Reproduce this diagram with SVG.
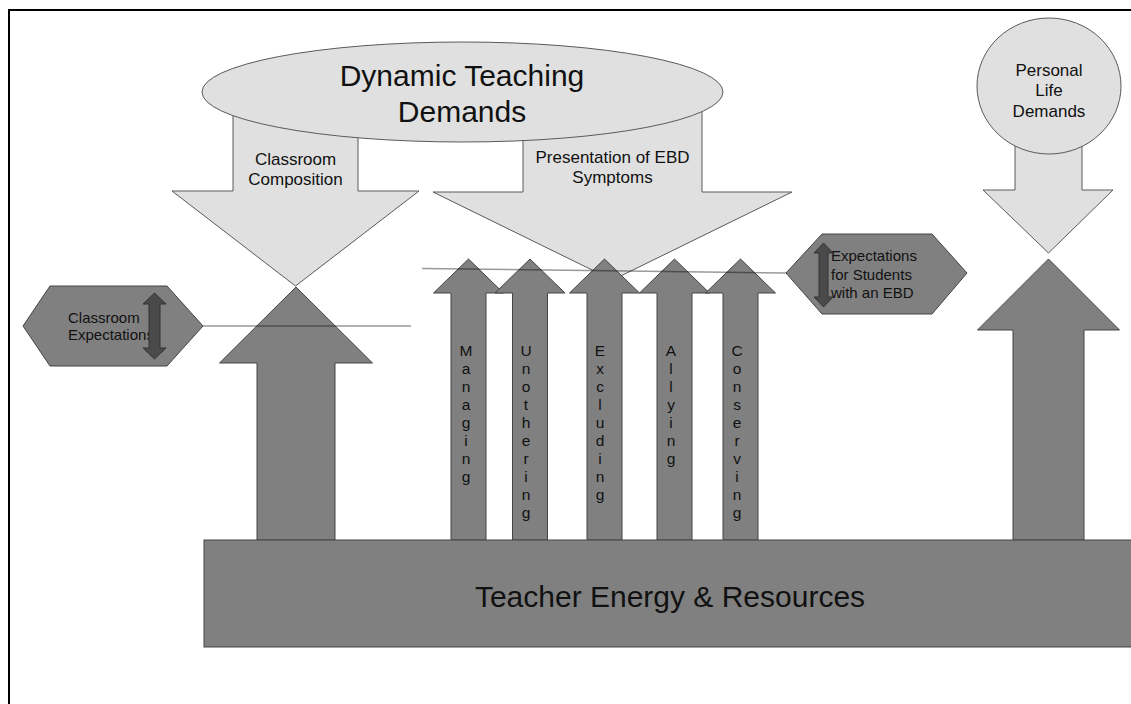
<svg xmlns="http://www.w3.org/2000/svg" width="1131" height="704" viewBox="0 0 1131 704">
  <style>
    text { font-family: "Liberation Sans", Arial, sans-serif; fill: #111; }
    .light { fill: #e0e0e0; stroke: #5a5a5a; stroke-width: 1; }
    .dark { fill: #808080; stroke: #444; stroke-width: 1; }
    .dbl { fill: #4a4a4a; stroke: #333; stroke-width: 1; }
    .conn { stroke: #000; stroke-opacity: 0.4; stroke-width: 1.5; fill: none; }
    .big { font-size: 30px; text-anchor: middle; }
    .mid { font-size: 17px; text-anchor: middle; }
    .small { font-size: 15px; }
    .col { font-size: 15.5px; text-anchor: middle; }
  </style>

  <rect width="1131" height="704" fill="#fff"/>
  <!-- page frame -->
  <path d="M9,704 V10 H1131" fill="none" stroke="#000" stroke-width="2"/>

  <!-- demand arrows pointing down -->
  <g id="arrow-classroom-composition">
    <path class="light" d="M233,100 H358 V191 H419 L295.5,286 L172,191 H233 Z"/>
    <text class="mid" x="295.5" y="165">Classroom</text>
    <text class="mid" x="295.5" y="185">Composition</text>
  </g>
  <g id="arrow-ebd-symptoms">
    <path class="light" d="M523,100 H702 V192 H792 L612.5,280 L433,192 H523 Z"/>
    <text class="mid" x="612.5" y="163">Presentation of EBD</text>
    <text class="mid" x="612.5" y="183">Symptoms</text>
  </g>
  <g id="arrow-personal">
    <path class="light" d="M1015,120 H1082 V190 H1113 L1048.5,253 L983,190 H1015 Z"/>
  </g>

  <!-- sources of demand -->
  <g id="dynamic-teaching-demands">
    <ellipse class="light" cx="462.5" cy="92" rx="260.5" ry="50"/>
    <text class="big" x="462" y="86">Dynamic Teaching</text>
    <text class="big" x="462" y="122">Demands</text>
  </g>
  <g id="personal-life-demands">
    <ellipse class="light" cx="1049" cy="86" rx="72" ry="68"/>
    <text class="mid" x="1049" y="76">Personal</text>
    <text class="mid" x="1049" y="96">Life</text>
    <text class="mid" x="1049" y="117">Demands</text>
  </g>

  <!-- teacher responses pointing up -->
  <g id="up-classroom">
    <path class="dark" d="M296,287 L372.5,363 H335 V540 H257 V363 H219.5 Z"/>
  </g>
  <g id="up-managing">
    <path class="dark" d="M468.5,259 L503.5,293 H486 V540 H451 V293 H433.5 Z"/>
    <text class="col" x="466">
      <tspan x="466" y="356">M</tspan><tspan x="466" y="374">a</tspan><tspan x="466" y="392">n</tspan><tspan x="466" y="410">a</tspan><tspan x="466" y="428">g</tspan><tspan x="466" y="446">i</tspan><tspan x="466" y="464">n</tspan><tspan x="466" y="482">g</tspan>
    </text>
  </g>
  <g id="up-unothering">
    <path class="dark" d="M530,259 L565,293 H547.5 V540 H512.5 V293 H495 Z"/>
    <text class="col" x="526">
      <tspan x="526" y="356">U</tspan><tspan x="526" y="374">n</tspan><tspan x="526" y="392">o</tspan><tspan x="526" y="410">t</tspan><tspan x="526" y="428">h</tspan><tspan x="526" y="446">e</tspan><tspan x="526" y="464">r</tspan><tspan x="526" y="482">i</tspan><tspan x="526" y="500">n</tspan><tspan x="526" y="518">g</tspan>
    </text>
  </g>
  <g id="up-excluding">
    <path class="dark" d="M604.5,259 L639.5,293 H622 V540 H587 V293 H569.5 Z"/>
    <text class="col" x="600">
      <tspan x="600" y="356">E</tspan><tspan x="600" y="374">x</tspan><tspan x="600" y="392">c</tspan><tspan x="600" y="410">l</tspan><tspan x="600" y="428">u</tspan><tspan x="600" y="446">d</tspan><tspan x="600" y="464">i</tspan><tspan x="600" y="482">n</tspan><tspan x="600" y="500">g</tspan>
    </text>
  </g>
  <g id="up-allying">
    <path class="dark" d="M674.5,259 L709.5,293 H692 V540 H657 V293 H639.5 Z"/>
    <text class="col" x="671">
      <tspan x="671" y="356">A</tspan><tspan x="671" y="374">l</tspan><tspan x="671" y="392">l</tspan><tspan x="671" y="410">y</tspan><tspan x="671" y="428">i</tspan><tspan x="671" y="446">n</tspan><tspan x="671" y="464">g</tspan>
    </text>
  </g>
  <g id="up-conserving">
    <path class="dark" d="M740.5,259 L775.5,293 H758 V540 H723 V293 H705.5 Z"/>
    <text class="col" x="737">
      <tspan x="737" y="356">C</tspan><tspan x="737" y="374">o</tspan><tspan x="737" y="392">n</tspan><tspan x="737" y="410">s</tspan><tspan x="737" y="428">e</tspan><tspan x="737" y="446">r</tspan><tspan x="737" y="464">v</tspan><tspan x="737" y="482">i</tspan><tspan x="737" y="500">n</tspan><tspan x="737" y="518">g</tspan>
    </text>
  </g>
  <g id="up-personal">
    <path class="dark" d="M1048.5,259 L1119.5,330 H1084 V540 H1013 V330 H977.5 Z"/>
  </g>

  <!-- shared base -->
  <g id="teacher-energy">
    <rect class="dark" x="204" y="540" width="940" height="107"/>
    <text class="big" x="670" y="607">Teacher Energy &amp; Resources</text>
  </g>

  <!-- expectation thresholds -->
  <g id="classroom-expectations">
    <path class="dark" d="M23,326 L50,286 H167 L203,326 L167,366 H50 Z"/>
    <text class="small" x="68" y="323">Classroom</text>
    <text class="small" x="68" y="340">Expectations</text>
    <path class="dbl" d="M154.5,293 L166,304 H160 V348 H166 L154.5,359 L143,348 H149 V304 H143 Z"/>
  </g>
  <g id="ebd-expectations">
    <path class="dark" d="M786,273 L822,234 H932 L967,273 L932,314 H822 Z"/>
    <text class="small" x="831" y="261">Expectations</text>
    <text class="small" x="831" y="280">for Students</text>
    <text class="small" x="831" y="298">with an EBD</text>
    <path class="dbl" d="M823.5,243 L833,253 H828 V297 H833 L823.5,307 L814,297 H819 V253 H814 Z"/>
  </g>

  <!-- threshold lines -->
  <g id="connectors">
    <line class="conn" x1="203" y1="326" x2="411" y2="326"/>
    <line class="conn" x1="422" y1="268.5" x2="786" y2="273"/>
  </g>
</svg>
